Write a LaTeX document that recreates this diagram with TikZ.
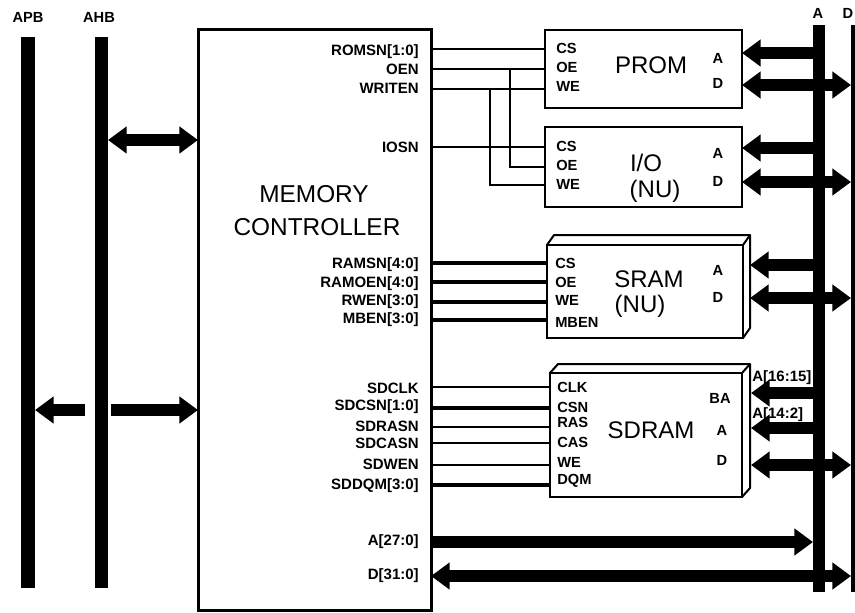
\documentclass[tikz,border=0pt]{standalone}
\usepackage{fontspec}
\setmainfont{Liberation Sans}
\usetikzlibrary{arrows.meta}
\newcommand\ctlf{\fontsize{11.25pt}{12pt}\selectfont\bfseries}
\newcommand\pinf{\fontsize{11pt}{12pt}\selectfont\bfseries}
\newcommand\bigf{\fontsize{18pt}{20pt}\selectfont}
\begin{document}
\begin{tikzpicture}[x=0.75pt,y=-0.75pt,
  bus/.style={fill=black, draw=none, inner sep=0pt, outer sep=0pt},
  box/.style={draw, line width=1.5pt, fill=white, inner sep=0pt, outer sep=0pt},
  thinsig/.style={line width=1.1pt},
  thicksig/.style={line width=3pt},
  bigarr/.style={line width=9pt, -{Triangle[width=19.5pt,length=14pt]}},
  bigdbl/.style={line width=9pt, {Triangle[width=19.5pt,length=14pt]}-{Triangle[width=19.5pt,length=14pt]}},
  ctllab/.style={anchor=east, font=\ctlf, text height=8pt, text depth=0pt, inner sep=0pt},
  pinlab/.style={anchor=west, font=\pinf, text height=7.8pt, text depth=0pt, inner sep=0pt},
  adlab/.style={anchor=center, font=\pinf, text height=7.8pt, text depth=0pt, inner sep=0pt},
  biglab/.style={anchor=center, font=\bigf, text height=12.9pt, text depth=0pt, inner sep=0pt},
  buslab/.style={anchor=center, font=\pinf, text height=7.8pt, text depth=0pt, inner sep=0pt},
]
\fill[white] (0,0) rectangle (855,612);
\useasboundingbox (0,0) rectangle (855,612);

% buses
\node[bus, minimum width=10.5pt, minimum height=413.25pt] (apb) at (28,312.5) {};
\node[bus, minimum width=9.75pt, minimum height=413.25pt] (ahb) at (101.5,312.5) {};
\node[bus, minimum width=9pt, minimum height=425.25pt] (abus) at (819,308.5) {};
\node[bus, minimum width=9pt, minimum height=425.25pt] (dbus) at (857,308.5) {};
\node[buslab] (apbl) at (28,17) {APB};
\node[buslab] (ahbl) at (99,17) {AHB};
\node[buslab] (abl) at (818,13) {A};
\node[buslab] (dbl) at (848,13) {D};

% memory controller
\node[box, line width=2.25pt, minimum width=174.75pt, minimum height=435.75pt] (ctl) at (314.5,319.5) {};
\node[biglab, font=\fontsize{18.3pt}{20pt}\selectfont] (memt) at (314,194) {MEMORY};
\node[biglab, font=\fontsize{18.3pt}{20pt}\selectfont] (ctlt) at (317,227) {CONTROLLER};

% memory boxes
\node[box, minimum width=147.75pt, minimum height=58.5pt] (prom) at (643.5,69) {};
\node[box, minimum width=147.75pt, minimum height=60pt] (io) at (643.5,167) {};
\node[box, minimum width=147pt, minimum height=69.75pt] (sram) at (645,291.5) {};
\draw[line width=1.5pt, line join=round] (sram.north west) -- ++(7,-10) -| ([shift={(7,-10)}]sram.south east) -- (sram.south east);
\draw[line width=1.5pt] (sram.north east) -- ++(7,-10);
\node[box, minimum width=144pt, minimum height=93pt] (sdram) at (646,435) {};
\draw[line width=1.5pt, line join=round] (sdram.north west) -- ++(8,-9) -| ([shift={(8,-9)}]sdram.south east) -- (sdram.south east);
\draw[line width=1.5pt] (sdram.north east) -- ++(8,-9);

\node[biglab] (promt) at (651,65) {PROM};
\node[biglab] (iot1) at (646,163) {I/O};
\node[biglab] (iot2) at (655,189) {(NU)};
\node[biglab] (sramt1) at (649,279) {SRAM};
\node[biglab] (sramt2) at (640,304) {(NU)};
\node[biglab] (sdramt) at (651,430) {SDRAM};

% controller pin labels
\node[ctllab] (l1) at (419,50) {ROMSN[1:0]};
\node[ctllab] (l2) at (419,69) {OEN};
\node[ctllab] (l3) at (419,88) {WRITEN};
\node[ctllab] (l4) at (419,147) {IOSN};
\node[ctllab] (l5) at (419,263) {RAMSN[4:0]};
\node[ctllab] (l6) at (419,282) {RAMOEN[4:0]};
\node[ctllab] (l7) at (419,300) {RWEN[3:0]};
\node[ctllab] (l8) at (419,318) {MBEN[3:0]};
\node[ctllab] (l9) at (419,388) {SDCLK};
\node[ctllab] (l10) at (419,405) {SDCSN[1:0]};
\node[ctllab] (l11) at (419,426) {SDRASN};
\node[ctllab] (l12) at (419,443) {SDCASN};
\node[ctllab] (l13) at (419,464) {SDWEN};
\node[ctllab] (l14) at (419,484) {SDDQM[3:0]};
\node[ctllab] (l15) at (419,540) {A[27:0]};
\node[ctllab] (l16) at (419,574) {D[31:0]};

% box pin labels
\node[pinlab] (p1) at (556,48) {CS};
\node[pinlab] (p2) at (556,67) {OE};
\node[pinlab] (p3) at (556,86) {WE};
\node[pinlab] (p4) at (556,146) {CS};
\node[pinlab] (p5) at (556,165) {OE};
\node[pinlab] (p6) at (556,184) {WE};
\node[pinlab] (p7) at (555,263) {CS};
\node[pinlab] (p8) at (555,282) {OE};
\node[pinlab] (p9) at (555,300) {WE};
\node[pinlab] (p10) at (555,322) {MBEN};
\node[pinlab] (p11) at (557,387) {CLK};
\node[pinlab] (p12) at (557,407) {CSN};
\node[pinlab] (p13) at (557,422) {RAS};
\node[pinlab] (p14) at (557,442) {CAS};
\node[pinlab] (p15) at (557,462) {WE};
\node[pinlab] (p16) at (557,479) {DQM};
\node[adlab] (a1) at (718,58) {A};
\node[adlab] (d1) at (718,83) {D};
\node[adlab] (a2) at (718,153) {A};
\node[adlab] (d2) at (718,181) {D};
\node[adlab] (a3) at (718,270) {A};
\node[adlab] (d3) at (718,297) {D};
\node[adlab] (ba4) at (720,398) {BA};
\node[adlab] (a4) at (722,430) {A};
\node[adlab] (d4) at (722,460) {D};
\node[ctllab, anchor=west] (a1615) at (752,376) {A[16:15]};
\node[ctllab, anchor=west] (a142) at (752,413) {A[14:2]};

% signal lines PROM / IO
\coordinate (romsn) at (431,49);
\coordinate (oen) at (431,69);
\coordinate (writen) at (431,89);
\coordinate (iosn) at (431,147);
\coordinate (oej) at (510,69);
\coordinate (wej) at (490,89);
\draw[thinsig] (romsn) -- (romsn -| prom.west);
\draw[thinsig] (oen) -- (oen -| prom.west);
\draw[thinsig] (writen) -- (writen -| prom.west);
\draw[thinsig] (iosn) -- (iosn -| io.west);
\draw[thinsig] (oej) |- (io.west |- 0,167);
\draw[thinsig] (wej) |- (io.west |- 0,185);

% SRAM lines
\foreach \yy in {263,282,302,320} {
  \draw[thicksig] (ctl.east |- 0,\yy) -- (sram.west |- 0,\yy);
}
% SDRAM lines
\foreach \yy in {387,427,443,465} {
  \draw[thinsig] (ctl.east |- 0,\yy) -- (sdram.west |- 0,\yy);
}
\foreach \yy in {408,485} {
  \draw[thicksig] (ctl.east |- 0,\yy) -- (sdram.west |- 0,\yy);
}

% big arrows
\coordinate (ahbarr) at (0,140);
\draw[bigdbl] (ahb.east |- ahbarr) -- (ctl.west |- ahbarr);
\coordinate (apbtail) at (85,410);
\draw[bigarr] (apbtail) -- (apb.east |- apbtail);
\coordinate (ctltail) at (111,410);
\draw[bigarr] (ctltail) -- (ctl.west |- ctltail);

\draw[bigarr] (abus.center |- 0,53) -- (prom.east |- 0,53);
\draw[bigdbl] (prom.east |- 0,85) -- (dbus.west |- 0,85);
\draw[bigarr] (abus.center |- 0,148) -- (io.east |- 0,148);
\draw[bigdbl] (io.east |- 0,182) -- (dbus.west |- 0,182);

\coordinate (sramback) at (750,0);
\draw[bigarr] (abus.center |- 0,265) -- (sramback |- 0,265);
\draw[bigdbl] (sramback |- 0,298) -- (dbus.west |- 0,298);
\coordinate (sdramback) at (751,0);
\draw[bigarr] (abus.center |- 0,393) -- (sdramback |- 0,393);
\draw[bigarr] (abus.center |- 0,428) -- (sdramback |- 0,428);
\draw[bigdbl] (sdramback |- 0,465) -- (dbus.west |- 0,465);

\draw[bigarr] (ctl.east |- 0,542) -- (abus.west |- 0,542);
\draw[bigdbl] (ctl.east |- 0,576) -- (dbus.west |- 0,576);
\end{tikzpicture}
\end{document}
